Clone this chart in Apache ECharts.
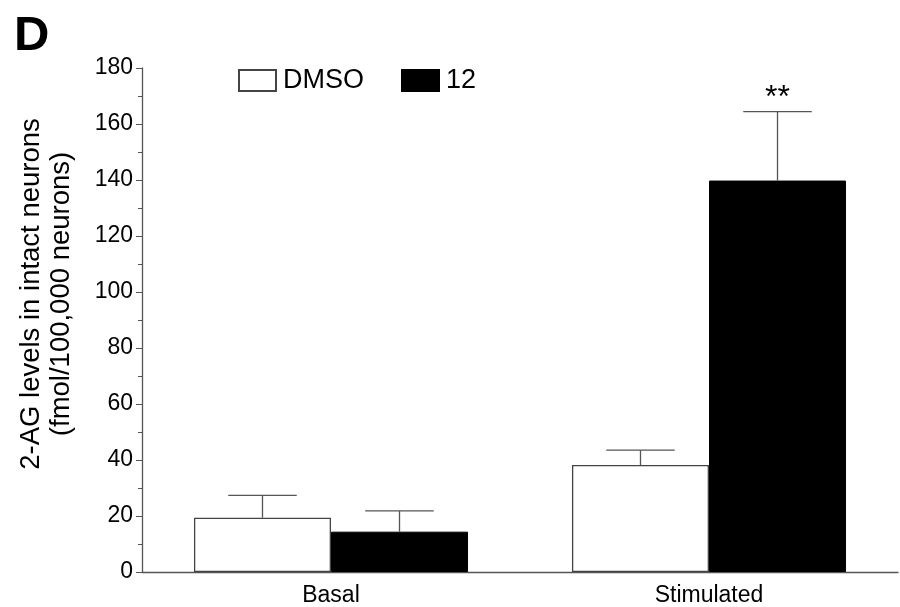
<!DOCTYPE html>
<html>
<head>
<meta charset="utf-8">
<script src="https://cdn.jsdelivr.net/npm/echarts@6/dist/echarts.min.js"></script>
<style>html,body{margin:0;padding:0;background:#fff}#c{width:900px;height:607px}</style>
</head>
<body>
<div id="c"></div>
<script>
const categories = ['Basal', 'Stimulated'];
const seriesNames = ['DMSO', '12'];
const dmsoMeans = [19.4, 38.2];
const dmsoErrTop = [27.4, 43.5];
const cmpMeans = [14.4, 139.8];
const cmpErrTop = [21.8, 164.4];
const sigLabels = ['', '**'];
const yTicks = [0, 20, 40, 60, 80, 100, 120, 140, 160, 180];

const FONT = '"Liberation Sans", Arial, sans-serif';
const AX = '#555';
const GAP = 0.275;

function errSeries(idx, tops, means, labels) {
  const data = categories.map((c, i) => [i, means[i], tops[i], labels ? labels[i] : '']);
  return {
    type: 'custom',
    z: 5,
    data: data,
    renderItem: function (params, api) {
      const ci = api.value(0);
      const catW = api.size([1, 0])[0];
      const bw = catW * (1 - GAP) / 2;
      const off = idx === 0 ? -bw / 2 : bw / 2;
      const base = api.coord([ci, api.value(1)]);
      const top = api.coord([ci, api.value(2)]);
      const x = base[0] + off;
      const cap = bw / 4;
      const children = [
        { type: 'line', shape: { x1: x, y1: base[1], x2: x, y2: top[1] }, style: { stroke: AX, lineWidth: 1.3 } },
        { type: 'line', shape: { x1: x - cap, y1: top[1], x2: x + cap, y2: top[1] }, style: { stroke: AX, lineWidth: 1.3 } }
      ];
      const lbl = data[params.dataIndex][3];
      if (lbl) {
        children.push({ type: 'text', style: { text: lbl, x: x, y: top[1] - 14, textAlign: 'center', textVerticalAlign: 'middle', font: '32px ' + FONT, fill: '#000' } });
      }
      return { type: 'group', children: children };
    }
  };
}

const chart = echarts.init(document.getElementById('c'), null, { renderer: 'canvas' });
chart.setOption({
  animation: false,
  backgroundColor: '#fff',
  grid: { left: 142, right: 2, top: 68, bottom: 35, containLabel: false },
  legend: {
    left: 233, top: 62,
    itemWidth: 37, itemHeight: 21, itemGap: 37,
    icon: 'rect',
    textStyle: { fontFamily: FONT, fontSize: 27, color: '#000', padding: [0, 0, 0, 2] },
    data: seriesNames
  },
  xAxis: {
    type: 'category',
    data: categories,
    axisLine: { lineStyle: { color: AX, width: 1.3 } },
    axisTick: { alignWithLabel: true, length: 6, lineStyle: { color: AX } },
    axisLabel: { fontFamily: FONT, fontSize: 23, color: '#000', margin: 12 }
  },
  yAxis: {
    type: 'value', min: 0, max: 180, interval: 20,
    splitLine: { show: false },
    axisLine: { show: true, lineStyle: { color: AX, width: 1.3 } },
    axisTick: { show: true, length: 6, lineStyle: { color: AX } },
    minorTick: { show: true, splitNumber: 2, length: 4, lineStyle: { color: AX } },
    axisLabel: { fontFamily: FONT, fontSize: 23, color: '#000', margin: 9,
      formatter: function (v) { return yTicks.indexOf(v) >= 0 ? String(v) : ''; } }
  },
  series: [
    { name: seriesNames[0], type: 'bar', data: dmsoMeans, barGap: '0%', barCategoryGap: (GAP * 100) + '%',
      itemStyle: { color: '#fff', borderColor: '#444', borderWidth: 1.3 } },
    { name: seriesNames[1], type: 'bar', data: cmpMeans, barGap: '0%', barCategoryGap: (GAP * 100) + '%',
      itemStyle: { color: '#000', borderColor: '#000', borderWidth: 1 } },
    errSeries(0, dmsoErrTop, dmsoMeans, null),
    errSeries(1, cmpErrTop, cmpMeans, sigLabels)
  ],
  graphic: [
    { type: 'text', left: 14, top: 12, style: { text: 'D', font: 'bold 49px ' + FONT, fill: '#000' } },
    { type: 'text', x: 46, y: 294, rotation: Math.PI / 2,
      style: { text: '2-AG levels in intact neurons\n(fmol/100,000 neurons)', font: '27.5px ' + FONT, fill: '#000',
        textAlign: 'center', textVerticalAlign: 'middle', lineHeight: 30 } }
  ]
});
</script>
</body>
</html>
